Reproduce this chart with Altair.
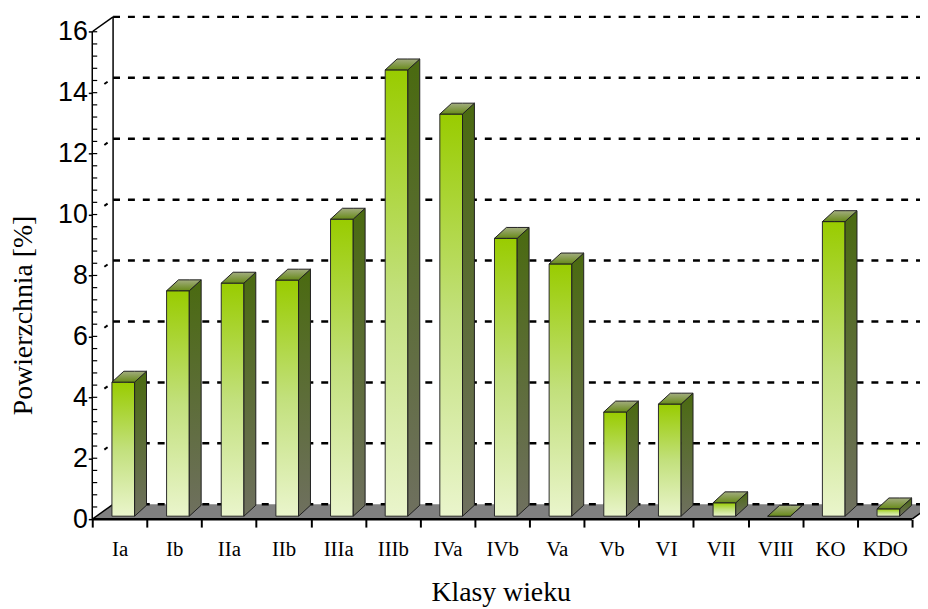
import json
import altair as alt
import pandas as pd

# ---------------- data ----------------
categories = ["Ia", "Ib", "IIa", "IIb", "IIIa", "IIIb", "IVa", "IVb", "Va",
              "Vb", "VI", "VII", "VIII", "KO", "KDO"]
values = [4.4, 7.4, 7.65, 7.75, 9.75, 14.65, 13.2, 9.12, 8.28,
          3.42, 3.68, 0.44, 0.0, 9.67, 0.24]
y_ticks = [0, 2, 4, 6, 8, 10, 12, 14, 16]
x_title = "Klasy wieku"
y_title = "Powierzchnia [%]"

# ---------------- geometry / style constants ----------------
W, H = 835, 509          # plot area in px
UX = 55.13               # px per category
UY = 30.73               # px per 1 %
XMAX = W / UX
YMAX = H / UY
N = len(categories)
WALL_DX, WALL_DY = 21 / UX, 15 / UY      # depth of the back wall
BAR_L, BAR_R = 0.36, 0.775               # front face within category
BAR_DX, BAR_DY = 12 / UX, 11 / UY        # bar depth
BASE = 3 / UY                            # bars stand slightly behind the front edge
YTOP = y_ticks[-1]

xs = alt.Scale(domain=[0, XMAX], nice=False, zero=False)
ys = alt.Scale(domain=[0, YMAX], nice=False, zero=False)

label_expr = json.dumps(categories) + "[datum.value] || ''"

x_axis = alt.Axis(values=list(range(N + 1)), labelExpr=label_expr,
                  labelOffset=UX / 2, labelFlush=False, labelOverlap=False,
                  labelFont="Liberation Serif", labelFontSize=21, labelColor="black",
                  labelPadding=12, labelBaseline="top",
                  domain=False, grid=False, ticks=True, tickSize=8, tickWidth=2,
                  tickColor="black", title=x_title, titleFont="Liberation Serif",
                  titleFontSize=28, titleFontWeight="normal", titleColor="black",
                  titleX=412, titleY=82, titleBaseline="alphabetic", titleAlign="center")
y_axis = alt.Axis(values=y_ticks, labelFlush=False, labelOverlap=False,
                  labelFont="Liberation Sans", labelFontSize=27, labelColor="black",
                  labelPadding=1, domain=False, grid=False, tickSize=4, tickWidth=1.5,
                  tickColor="black", title=y_title, titleFont="Liberation Serif",
                  titleFontSize=28, titleFontWeight="normal", titleColor="black",
                  titleX=-61, titleY=303, titleAngle=270, titleAlign="center",
                  titleBaseline="alphabetic")


def X(f="x"):
    return alt.X(f"{f}:Q", scale=xs, axis=x_axis)


def Y(f="y"):
    return alt.Y(f"{f}:Q", scale=ys, axis=y_axis)


# ---------------- floor ----------------
floor_df = pd.DataFrame({
    "x": [0, WALL_DX, N, N + WALL_DX],
    "y": [0, 0, 0, WALL_DY],
    "y2": [0, WALL_DY, WALL_DY, WALL_DY],
})
floor = alt.Chart(floor_df).mark_area(fill="#808080", orient="vertical", clip=True).encode(
    x=X(), y=Y(), y2="y2:Q")

# ---------------- back wall grid ----------------
grid_df = pd.DataFrame({"y": [t + WALL_DY for t in y_ticks], "x": WALL_DX, "x2": XMAX})
grid = alt.Chart(grid_df).mark_rule(color="black", strokeWidth=2.5, strokeDash=[7, 8],
                                    clip=True).encode(x=X(), x2="x2:Q", y=Y())

wall_df = pd.DataFrame({"x": [WALL_DX], "y": [WALL_DY], "y2": [YTOP + WALL_DY]})
wall = alt.Chart(wall_df).mark_rule(color="black", strokeWidth=1.5).encode(
    x=X(), y=Y(), y2="y2:Q")

diag_mid = pd.DataFrame({"y": [t for t in y_ticks if 0 < t < YTOP]})
diag_mid["y2"] = diag_mid["y"] + WALL_DY
diag_mid["x"] = 0.0
diag_mid["x2"] = WALL_DX
diag_dash = alt.Chart(diag_mid).mark_rule(color="black", strokeWidth=2,
                                          strokeDash=[0, 15, 4, 30]).encode(
    x=X(), x2="x2:Q", y=Y(), y2="y2:Q")

diag_end = pd.DataFrame({"x": [0.0, 0.0, float(N)], "x2": [WALL_DX, WALL_DX, N + WALL_DX],
                         "y": [0.0, float(YTOP), 0.0],
                         "y2": [WALL_DY, YTOP + WALL_DY, WALL_DY]})
diag_solid = alt.Chart(diag_end).mark_rule(color="black", strokeWidth=1.5, clip=True).encode(
    x=X(), x2="x2:Q", y=Y(), y2="y2:Q")

front_df = pd.DataFrame({"x": [0.0], "x2": [float(N)], "y": [0.0]})
front_edge = alt.Chart(front_df).mark_rule(color="black", strokeWidth=2.5).encode(
    x=X(), x2="x2:Q", y=Y())

yline_df = pd.DataFrame({"x": [0.0], "y": [0.0], "y2": [float(YTOP)]})
yline = alt.Chart(yline_df).mark_rule(color="black", strokeWidth=1.5).encode(
    x=X(), y=Y(), y2="y2:Q")

minor_df = pd.DataFrame({"y": [k * 0.4 for k in range(int(YTOP / 0.4) + 1)]})
minor_df["x"] = 0.0
minor_df["x2"] = 5 / UX
minor = alt.Chart(minor_df).mark_rule(color="black", strokeWidth=1.2).encode(
    x=X(), x2="x2:Q", y=Y())

# ---------------- bars ----------------
bars = pd.DataFrame({"cat": categories, "v": values, "i": range(N)})
bars["x"] = bars["i"] + BAR_L
bars["x2"] = bars["i"] + BAR_R
bars["y"] = BASE
bars["y2"] = BASE + bars["v"]

front_grad = alt.LinearGradient(gradient="linear", x1=0, y1=0, x2=0, y2=1, stops=[
    alt.GradientStop(offset=0, color="#99cc00"),
    alt.GradientStop(offset=0.5, color="#c2e07c"),
    alt.GradientStop(offset=1, color="#eaf5cc")])
side_grad = alt.LinearGradient(gradient="linear", x1=0, y1=0, x2=0, y2=1, stops=[
    alt.GradientStop(offset=0, color="#4a6a10"),
    alt.GradientStop(offset=1, color="#6f705f")])
top_grad = alt.LinearGradient(gradient="linear", x1=0, y1=0, x2=0, y2=1, stops=[
    alt.GradientStop(offset=0, color="#a3ad80"),
    alt.GradientStop(offset=1, color="#678a18")])

front = alt.Chart(bars).mark_rect(fill=front_grad, stroke="#2b2b2b", strokeWidth=1).encode(
    x=X(), x2="x2:Q", y=Y(), y2="y2:Q")

side_rows, top_rows = [], []
for c, v, i in zip(categories, values, range(N)):
    xr = i + BAR_R
    xl = i + BAR_L
    top = BASE + v
    side_rows += [
        {"cat": c, "x": xr, "y": BASE, "y2": top},
        {"cat": c, "x": xr + BAR_DX, "y": BASE + BAR_DY, "y2": top + BAR_DY},
    ]
    top_rows += [
        {"cat": c, "x": xl, "y": top, "y2": top},
        {"cat": c, "x": xl + BAR_DX, "y": top, "y2": top + BAR_DY},
        {"cat": c, "x": xr, "y": top, "y2": top + BAR_DY},
        {"cat": c, "x": xr + BAR_DX, "y": top + BAR_DY, "y2": top + BAR_DY},
    ]
side_df = pd.DataFrame(side_rows)
top_df = pd.DataFrame(top_rows)

side = alt.Chart(side_df).mark_area(fill=side_grad, stroke="#1f1f1f", strokeWidth=1,
                                    orient="vertical").encode(
    x=X(), y=Y(), y2="y2:Q", detail="cat:N")
topf = alt.Chart(top_df).mark_area(fill=top_grad, stroke="#1f1f1f", strokeWidth=1,
                                   orient="vertical").encode(
    x=X(), y=Y(), y2="y2:Q", detail="cat:N")

chart = alt.layer(
    floor, grid, wall, diag_dash, diag_solid, front_edge, yline, minor,
    front, side, topf
).properties(
    width=W, height=H,
    padding={"left": 85, "top": 4, "right": 0, "bottom": 88},
    autosize=alt.AutoSizeParams(type="none"),
).configure_view(stroke=None)

chart.save("out.html", embed_options={"renderer": "svg", "actions": False})
